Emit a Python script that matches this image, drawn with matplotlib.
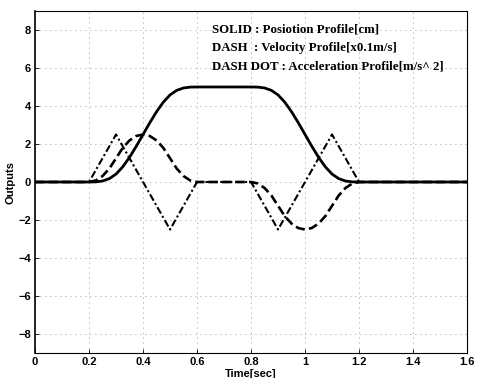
# -*- coding: utf8
'''
Position, velocity and acceleration profiles of a point-to-point move.
'''
import matplotlib
matplotlib.use('Agg')
from matplotlib import pyplot as plt

# time axis for position / velocity samples [sec]
time = [0.0,
        0.2, 0.225, 0.25, 0.275, 0.3, 0.325, 0.35, 0.375, 0.4,
        0.425, 0.45, 0.475, 0.5, 0.525, 0.55, 0.575, 0.6,
        0.8, 0.825, 0.85, 0.875, 0.9, 0.925, 0.95, 0.975, 1.0,
        1.025, 1.05, 1.075, 1.1, 1.125, 1.15, 1.175, 1.2,
        1.6]

# position [cm]
position = [0.0,
            0.0, 0.007, 0.052, 0.176, 0.417, 0.801, 1.302, 1.882, 2.5,
            3.118, 3.698, 4.199, 4.583, 4.824, 4.948, 4.993, 5.0,
            5.0, 4.993, 4.948, 4.824, 4.583, 4.199, 3.698, 3.118, 2.5,
            1.882, 1.302, 0.801, 0.417, 0.176, 0.052, 0.007, 0.0,
            0.0]

# velocity [x0.1 m/s]
velocity = [0.0,
            0.0, 0.078, 0.313, 0.703, 1.25, 1.797, 2.188, 2.422, 2.5,
            2.422, 2.188, 1.797, 1.25, 0.703, 0.313, 0.078, 0.0,
            0.0, -0.078, -0.313, -0.703, -1.25, -1.797, -2.188, -2.422, -2.5,
            -2.422, -2.188, -1.797, -1.25, -0.703, -0.313, -0.078, 0.0,
            0.0]

# acceleration [m/s^2], piecewise linear
acc_time = [0.0, 0.2, 0.3, 0.5, 0.6, 0.8, 0.9, 1.1, 1.2, 1.6]
acceleration = [0.0, 0.0, 2.5, -2.5, 0.0, 0.0, -2.5, 2.5, 0.0, 0.0]

legend_lines = ['SOLID : Posiotion Profile[cm]',
                'DASH  : Velocity Profile[x0.1m/s]',
                'DASH DOT : Acceleration Profile[m/s^ 2]']

xticks = [0, 0.2, 0.4, 0.6, 0.8, 1.0, 1.2, 1.4, 1.6]
xtick_labels = ['0', '0.2', '0.4', '0.6', '0.8', '1', '1.2', '1.4', '1.6']
yticks = [-8, -6, -4, -2, 0, 2, 4, 6, 8]


def main():
    fig = plt.figure(figsize=(4.8, 3.78), dpi=100)
    ax = fig.add_axes([0.073, 0.066, 0.9, 0.905])

    ax.plot(time, position, color='black', lw=2.0, ls='-')
    ax.plot(time, velocity, color='black', lw=1.9, ls=(0, (3.5, 1.6)))
    ax.plot(acc_time, acceleration, color='black', lw=1.5,
            ls=(0, (3.5, 1.3, 1.0, 1.3)))

    ax.set_xlim(0, 1.6)
    ax.set_ylim(-9, 9)
    ax.set_xticks(xticks)
    ax.set_xticklabels(xtick_labels)
    ax.set_yticks(yticks)

    ax.grid(True, color='#777777', ls=(0, (1, 5)), lw=0.6)
    ax.tick_params(direction='in', length=3, width=0.6, labelsize=8,
                   pad=3)
    for lab in ax.get_xticklabels() + ax.get_yticklabels():
        lab.set_fontweight('bold')
        lab.set_family('Liberation Sans')

    for name in ['top', 'right', 'bottom']:
        ax.spines[name].set_linestyle((0, (1, 1)))
        ax.spines[name].set_linewidth(0.8)
    ax.spines['left'].set_linewidth(1.2)

    ax.set_xlabel('Time[sec]', fontsize=8, fontweight='bold',
                  family='Liberation Sans', labelpad=1)
    ax.set_ylabel('Outputs', fontsize=8, fontweight='bold',
                  family='Liberation Sans', labelpad=2)

    for i, line in enumerate(legend_lines):
        ax.text(0.655, 8.0 - i * 0.95, line, fontsize=9.3,
                fontweight='bold', family='Liberation Serif',
                va='center', ha='left')

    fig.savefig('out.png', dpi=100)


if __name__ == '__main__':
    main()
